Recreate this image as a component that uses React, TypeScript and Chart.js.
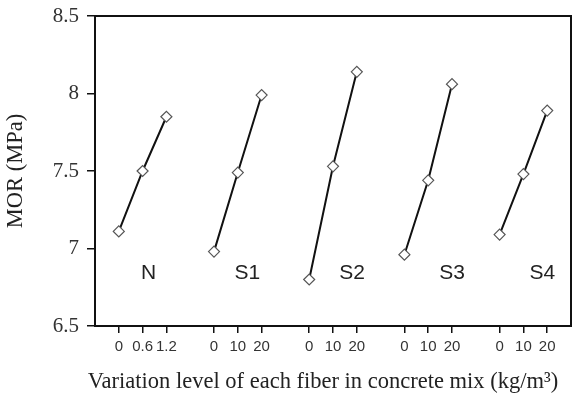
import React, { useEffect, useRef } from "react";
import { Chart, registerables } from "chart.js";

Chart.register(...registerables);

const groups = ["N", "S1", "S2", "S3", "S4"];
const levelLabels = [
  ["0", "0.6", "1.2"],
  ["0", "10", "20"],
  ["0", "10", "20"],
  ["0", "10", "20"],
  ["0", "10", "20"],
];
const N_MOR = [7.11, 7.5, 7.85];
const S1_MOR = [6.98, 7.49, 7.99];
const S2_MOR = [6.8, 7.53, 8.14];
const S3_MOR = [6.96, 7.44, 8.06];
const S4_MOR = [7.09, 7.48, 7.89];
const seriesValues = [N_MOR, S1_MOR, S2_MOR, S3_MOR, S4_MOR];
const yTickLabels = ["6.5", "7", "7.5", "8", "8.5"];
const xTitle = "Variation level of each fiber in concrete mix (kg/m³)";

const GROUP_STEP = 4;
const groupLabelX = [1.25, 1.4, 1.8, 2.0, 1.8];
const groupLabelY = 6.84;

const SERIF = "'Liberation Serif', 'Times New Roman', serif";
const SANS = "'Liberation Sans', Arial, sans-serif";

export default function App() {
  const ref = useRef<HTMLCanvasElement>(null);
  useEffect(() => {
    document.body.style.margin = "0";
    const tickPositions: number[] = [];
    const tickText: Record<string, string> = {};
    groups.forEach((_, g) => {
      levelLabels[g].forEach((lab, i) => {
        const p = g * GROUP_STEP + i;
        tickPositions.push(p);
        tickText[String(p)] = lab;
      });
    });
    const datasets = seriesValues.map((vals, g) => ({
      label: groups[g],
      data: vals.map((v, i) => ({ x: g * GROUP_STEP + i, y: v })),
      borderColor: "#111",
      borderWidth: 2,
      pointStyle: "rectRot" as const,
      pointRadius: 5.5,
      pointBackgroundColor: "#fff",
      pointBorderColor: "#555",
      pointBorderWidth: 1.2,
      showLine: true,
      tension: 0,
    }));
    const framePlugin = {
      id: "frame",
      afterDraw(chart: any) {
        const { ctx, chartArea, scales } = chart;
        ctx.save();
        ctx.strokeStyle = "#111";
        ctx.lineWidth = 2;
        ctx.strokeRect(chartArea.left, chartArea.top, chartArea.right - chartArea.left, chartArea.bottom - chartArea.top);
        ctx.fillStyle = "#222";
        ctx.font = `21px ${SANS}`;
        ctx.textAlign = "center";
        ctx.textBaseline = "middle";
        groups.forEach((name, g) => {
          const x = scales.x.getPixelForValue(g * GROUP_STEP + groupLabelX[g]);
          const y = scales.y.getPixelForValue(groupLabelY);
          ctx.fillText(name, x, y);
        });
        ctx.font = `22.5px ${SERIF}`;
        ctx.fillText(xTitle, (chartArea.left + chartArea.right) / 2 - 10, chartArea.bottom + 56);
        ctx.restore();
      },
    };
    const chart = new Chart(ref.current!, {
      type: "scatter",
      data: { datasets },
      plugins: [framePlugin],
      options: {
        responsive: false,
        animation: false,
        layout: { padding: { top: 16, right: 8, left: 0, bottom: 0 } },
        plugins: { legend: { display: false }, tooltip: { enabled: false } },
        scales: {
          x: {
            type: "linear",
            min: -1,
            max: 19,
            afterBuildTicks(scale: any) {
              scale.ticks = tickPositions.map((v) => ({ value: v }));
            },
            afterFit(scale: any) {
              scale.height = 71;
              scale.paddingLeft = 0;
              scale.paddingRight = 0;
            },
            ticks: {
              autoSkip: false,
              maxRotation: 0,
              padding: 5,
              color: "#333",
              font: { family: SANS, size: 15 },
              callback: (v: any) => tickText[String(v)] ?? "",
            },
            grid: { display: true, drawOnChartArea: false, drawTicks: true, tickLength: 7, color: "#111", lineWidth: 1.5 },
            border: { display: true, color: "#111", width: 2 },
            title: { display: false },
          },
          y: {
            min: 6.5,
            max: 8.5,
            afterFit(scale: any) {
              scale.width = 95;
              scale.paddingTop = 0;
              scale.paddingBottom = 0;
            },
            ticks: {
              stepSize: 0.5,
              padding: 8,
              color: "#333",
              font: { family: SERIF, size: 21 },
              callback: (v: any) => {
                const idx = Math.round((Number(v) - 6.5) / 0.5);
                return yTickLabels[idx] ?? "";
              },
            },
            grid: { display: true, drawOnChartArea: false, drawTicks: true, tickLength: 8, color: "#111", lineWidth: 1.5 },
            border: { display: true, color: "#111", width: 2 },
            title: {
              display: true,
              text: "MOR (MPa)",
              color: "#222",
              font: { family: SERIF, size: 22.5 },
              padding: { top: 3, bottom: 4 },
            },
          },
        },
      },
    });
    return () => chart.destroy();
  }, []);
  return (
    <div style={{ width: 579, height: 397 }}>
      <canvas ref={ref} width={579} height={397} />
    </div>
  );
}
